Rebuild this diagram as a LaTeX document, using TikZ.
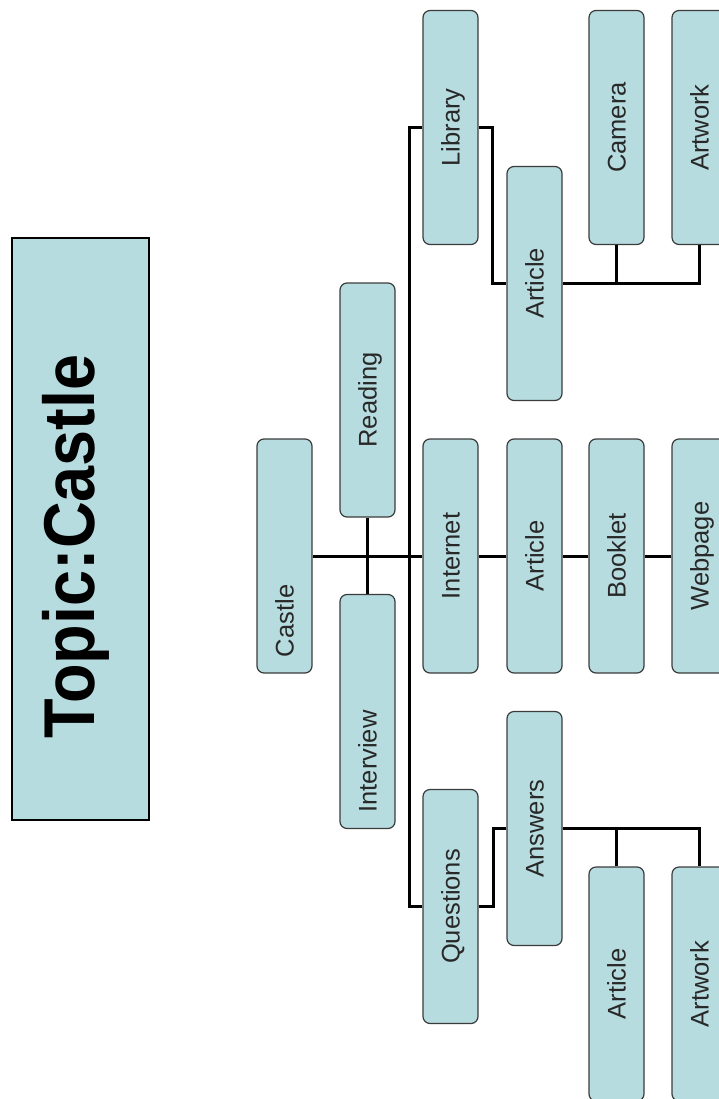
\documentclass[tikz,border=0pt]{standalone}
\usepackage{fontspec}
\setmainfont{Liberation Sans}
\usepackage{graphicx}
\definecolor{boxfill}{RGB}{182,220,223}
\definecolor{boxline}{RGB}{60,60,60}
\definecolor{lbltxt}{RGB}{40,40,40}
\newcommand\vlabel[1]{\rotatebox{90}{\raisebox{0pt}[0.72em][0pt]{#1}}}
\newcommand\vlabelL[1]{\rotatebox{90}{\makebox[202pt][l]{\raisebox{0pt}[0.72em][0pt]{#1}}}}
\begin{document}
\begin{tikzpicture}[x=1pt,y=-1pt,
  stepbox/.style={draw=boxline, line width=1.2pt, fill=boxfill, rounded corners=7pt,
    minimum width=55pt, minimum height=234pt, inner sep=0pt,
    font=\fontsize{25.5}{30}\selectfont, text=lbltxt},
  conn/.style={line width=3pt, black}]
\useasboundingbox (0,0) rectangle (719,1099);
\clip (0,0) rectangle (719,1099);
\fill[white] (0,0) rectangle (719,1099);

% title
\node[draw=black, line width=1.5pt, fill=boxfill, minimum width=137pt, minimum height=582pt, inner sep=0pt] (topic) at (80.5,529) {};
\node[font=\fontsize{72}{80}\selectfont\bfseries, inner sep=0pt, text=black] (topictext) at (69,546.5)
  {\rotatebox{90}{\raisebox{0pt}[0.72em][0pt]{\scalebox{0.9}[1]{Topic:Castle}}}};

% boxes
\node[stepbox] (castle)    at (284.5,556)   {\vlabelL{Castle}};
\node[stepbox] (reading)   at (367.5,400)   {\vlabel{Reading}};
\node[stepbox] (interview) at (367.5,711.5) {\vlabelL{Interview}};
\node[stepbox] (library)   at (450.5,127.5) {\vlabel{Library}};
\node[stepbox] (internet)  at (450.5,556)   {\vlabel{Internet}};
\node[stepbox] (questions) at (450.5,906.5) {\vlabel{Questions}};
\node[stepbox] (artlib)    at (534.5,283.5) {\vlabel{Article}};
\node[stepbox] (artnet)    at (534.5,556)   {\vlabel{Article}};
\node[stepbox] (answers)   at (534.5,828.5) {\vlabel{Answers}};
\node[stepbox] (camera)    at (616.5,127.5) {\vlabel{Camera}};
\node[stepbox] (booklet)   at (616.5,556)   {\vlabel{Booklet}};
\node[stepbox] (article3)  at (616.5,984)   {\vlabel{Article}};
\node[stepbox] (artwork1)  at (699.5,127.5) {\vlabel{Artwork}};
\node[stepbox] (webpage)   at (699.5,556)   {\vlabel{Webpage}};
\node[stepbox] (artwork2)  at (699.5,984)   {\vlabel{Artwork}};

% connectors
\coordinate (trunktop) at (409,127.5);
\draw[conn] (castle.east) -- (internet.west);
\draw[conn] (reading.south) -- (interview.north);
\draw[conn] (library.west) -- (trunktop) |- (questions.west);
\draw[conn] (library.east) -- ++(14,0) |- (artlib.west);
\draw[conn] (artlib.east) -| (artwork1.south);
\draw[conn] (camera.south) -- (camera.south |- artlib.east);
\draw[conn] (internet.east) -- (artnet.west);
\draw[conn] (artnet.east) -- (booklet.west);
\draw[conn] (booklet.east) -- (webpage.west);
\draw[conn] (questions.east) -- ++(15,0) |- (answers.west);
\draw[conn] (answers.east) -| (artwork2.north);
\draw[conn] (article3.north) -- (article3.north |- answers.east);
\end{tikzpicture}
\end{document}
